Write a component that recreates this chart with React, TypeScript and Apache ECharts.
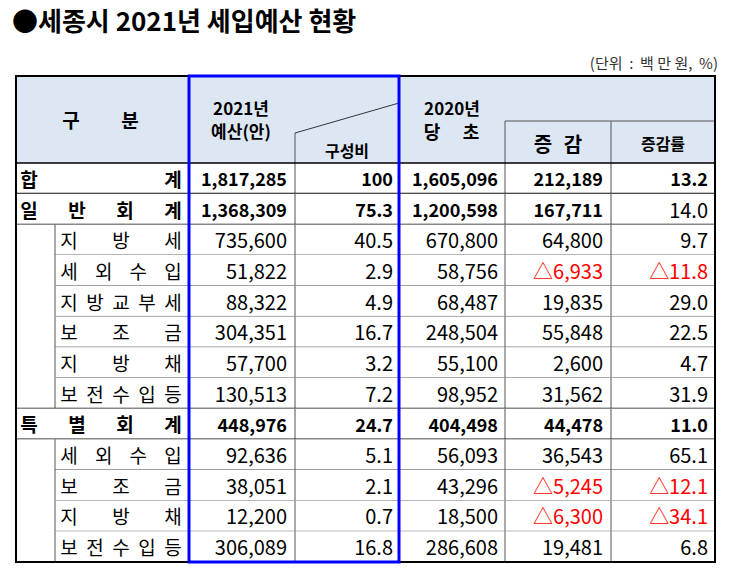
import React, { useEffect, useRef } from 'react';
import * as echarts from 'echarts';

const FONT = '"Noto Sans CJK KR", "Noto Sans", sans-serif';

// ---------- data ----------
const titleText = '●세종시 2021년 세입예산 현황';
const unitText = '(단위\u00a0\u00a0:\u00a0\u00a0백\u00a0만\u00a0원,\u00a0\u00a0%)';

const categories = ['합계', '일반회계', '지방세', '세외수입', '지방교부세', '보조금', '지방채', '보전수입등', '특별회계', '세외수입', '보조금', '지방채', '보전수입등'];
const rowLevel = ['major', 'major', 'sub', 'sub', 'sub', 'sub', 'sub', 'sub', 'major', 'sub', 'sub', 'sub', 'sub'];
const budget2021 = [1817285, 1368309, 735600, 51822, 88322, 304351, 57700, 130513, 448976, 92636, 38051, 12200, 306089];
const shareRatio = [100, 75.3, 40.5, 2.9, 4.9, 16.7, 3.2, 7.2, 24.7, 5.1, 2.1, 0.7, 16.8];
const budget2020 = [1605096, 1200598, 670800, 58756, 68487, 248504, 55100, 98952, 404498, 56093, 43296, 18500, 286608];
const changeAmount = [212189, 167711, 64800, -6933, 19835, 55848, 2600, 31562, 44478, 36543, -5245, -6300, 19481];
const changeRate = [13.2, 14.0, 9.7, -11.8, 29.0, 22.5, 4.7, 31.9, 11.0, 65.1, -12.1, -34.1, 6.8];
const boldValues = [true, true, false, false, false, false, false, false, true, false, false, false, false];
const boldRate = [true, false, false, false, false, false, false, false, true, false, false, false, false];

// ---------- layout (px) ----------
const TL = 16, TR = 715, TT = 76, HB = 163, TB = 562;
// column edges in x-axis units (0..699)
const EDGES = [0, 39, 173, 279, 383, 489, 595, 699];

const fmtInt = (v: number) => (v < 0 ? '△' : '') + Math.abs(v).toLocaleString('en-US');
const fmtShare = (v: number) => (v === 100 ? '100' : v.toFixed(1));
const fmtRate = (v: number) => (v < 0 ? '△' : '') + Math.abs(v).toFixed(1);

function txt(text: string, x: number, y: number, size: number, bold: boolean, align: string, fill = '#000', z = 50) {
  return {
    type: 'text',
    z,
    style: {
      text, x, y, fill,
      font: `${bold ? 'bold ' : ''}${size}px ${FONT}`,
      align, verticalAlign: 'middle',
      textAlign: align, textVerticalAlign: 'middle',
    },
  };
}
function ln(x1: number, y1: number, x2: number, y2: number, stroke: string, w: number, z = 60) {
  return { type: 'line', z, shape: { x1, y1, x2, y2 }, style: { stroke, lineWidth: w } };
}

export default function App() {
  const ref = useRef<HTMLDivElement>(null);
  useEffect(() => {
    const chart = echarts.init(ref.current!, null, { renderer: 'svg' });

    const renderItem = (params: any, api: any) => {
      const i = api.value(1) as number;
      const c = api.coord([0, i]);
      const band = (api.size([0, 1]) as number[])[1];
      const cy = c[1];
      const top = cy - band / 2;
      const bottom = cy + band / 2;
      const X = (v: number) => api.coord([v, i])[0];
      const major = rowLevel[i] === 'major';
      const children: any[] = [];

      children.push({ type: 'rect', shape: { x: X(0), y: top, width: X(699) - X(0), height: band }, style: { fill: '#fff' } });

      const chars = categories[i].split('');
      const first = major ? 13 : 53;
      const last = 157;
      chars.forEach((ch, k) => {
        const cx = chars.length === 1 ? first : first + ((last - first) * k) / (chars.length - 1);
        children.push(txt(ch, X(cx), cy, 19, major, 'center'));
      });

      const red = '#ff0000';
      const b = boldValues[i];
      const sz = (bold: boolean) => (bold ? 18 : 20);
      children.push(txt(fmtInt(budget2021[i]), X(EDGES[3]) - 8, cy, sz(b), b, 'right'));
      children.push(txt(fmtShare(shareRatio[i]), X(EDGES[4]) - 6, cy, sz(b), b, 'right'));
      children.push(txt(fmtInt(budget2020[i]), X(EDGES[5]) - 7, cy, sz(b), b, 'right'));
      children.push(txt(fmtInt(changeAmount[i]), X(EDGES[6]) - 8, cy, sz(b), b, 'right', changeAmount[i] < 0 ? red : '#000'));
      children.push(txt(fmtRate(changeRate[i]), X(EDGES[7]) - 7, cy, sz(boldRate[i]), boldRate[i], 'right', changeRate[i] < 0 ? red : '#000'));

      if (!major) children.push(ln(X(EDGES[1]), top, X(EDGES[1]), bottom, '#555', 1));
      [EDGES[3], EDGES[5], EDGES[6]].forEach((e) => children.push(ln(X(e), top, X(e), bottom, '#555', 1)));

      if (i < categories.length - 1) {
        const nextSub = rowLevel[i + 1] === 'sub';
        if (!major && nextSub) children.push(ln(X(EDGES[1]), bottom, X(699), bottom, '#555', 1));
        else children.push(ln(X(0), bottom, X(699), bottom, '#111', i === 0 ? 2 : 1.5));
      }
      return { type: 'group', children };
    };

    const header: any[] = [
      { type: 'rect', z: 1, shape: { x: TL, y: TT, width: TR - TL, height: HB - TT }, style: { fill: '#dde7f3' } },
      ln(505, 121, TR, 121, '#555', 1, 40),
      ln(505, 121, 505, HB, '#555', 1, 40),
      ln(611, 121, 611, HB, '#555', 1, 40),
      ln(295, 133, 295, HB, '#555', 1, 40),
      ln(295, 133, 399, 103, '#333', 1, 40),
      ln(TL, HB, TR, HB, '#000', 1.5, 40),
      txt('구', 71, 119, 19, true, 'center'),
      txt('분', 130, 119, 19, true, 'center'),
      txt('2021년', 241, 107, 17, true, 'center'),
      txt('예산(안)', 241, 130, 17, true, 'center'),
      txt('구성비', 347, 150, 16, true, 'center'),
      txt('2020년', 452, 107, 17, true, 'center'),
      txt('당', 432, 131, 18, true, 'center'),
      txt('초', 471, 131, 18, true, 'center'),
      txt('증', 543, 143, 20, true, 'center'),
      txt('감', 573, 143, 20, true, 'center'),
      txt('증감률', 663, 143, 16, true, 'center'),
      txt(titleText, 12, 19, 26, true, 'left'),
      txt(unitText, 718, 62, 15, false, 'right', '#333'),
      { type: 'rect', z: 90, shape: { x: TL, y: TT, width: TR - TL, height: TB - TT }, style: { fill: 'none', stroke: '#000', lineWidth: 2 } },
      { type: 'rect', z: 100, shape: { x: 189, y: TT, width: 210, height: TB - TT }, style: { fill: 'none', stroke: '#0000ff', lineWidth: 3 } },
    ];

    chart.setOption({
      animation: false,
      backgroundColor: '#fff',
      grid: { left: TL, top: HB, width: TR - TL, height: TB - HB, containLabel: false },
      xAxis: { type: 'value', min: 0, max: 699, show: false },
      yAxis: { type: 'category', data: categories.map((c, i) => `${i}:${c}`), inverse: true, show: false },
      series: [
        {
          type: 'custom',
          renderItem,
          encode: { x: 0, y: 1 },
          data: categories.map((c, i) => [0, i]),
          z: 10,
        },
      ],
      graphic: header,
    });
    return () => chart.dispose();
  }, []);
  return <div ref={ref} style={{ position: 'absolute', left: 0, top: 0, width: 730, height: 576 }} />;
}
